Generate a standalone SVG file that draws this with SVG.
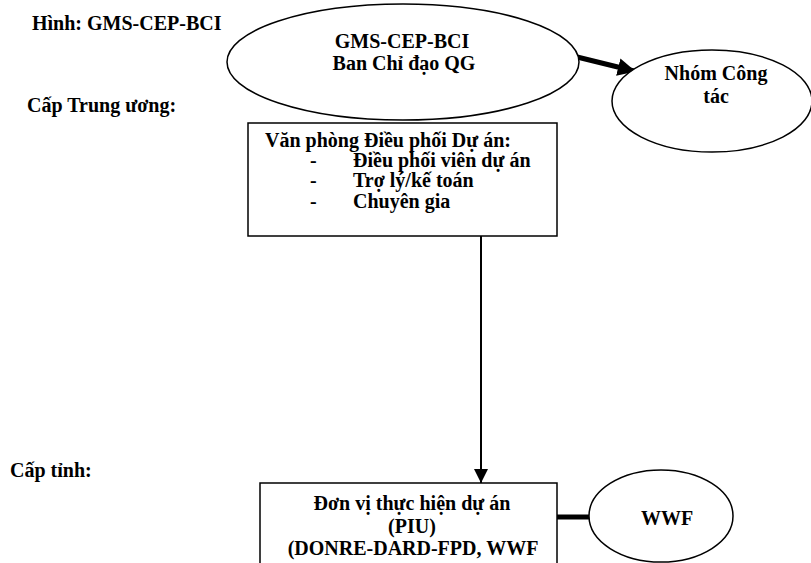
<svg xmlns="http://www.w3.org/2000/svg" width="811" height="563" viewBox="0 0 811 563">
<style>
text{font-family:"Liberation Serif","Times New Roman",serif;font-weight:bold;font-size:20px;fill:#000}
.c{text-anchor:middle}
.s{fill:#fff;stroke:#000;stroke-width:1.5}
</style>
<defs>
<marker id="ah" viewBox="0 0 10 10" refX="10" refY="5" markerWidth="14" markerHeight="15" markerUnits="userSpaceOnUse" orient="auto"><path d="M0,0L10,5L0,10z" fill="#000"/></marker>
<marker id="ah2" viewBox="0 0 10 10" refX="9" refY="5" markerWidth="18" markerHeight="18" markerUnits="userSpaceOnUse" orient="auto"><path d="M0,0L10,5L0,10z" fill="#000"/></marker>
</defs>
<rect width="811" height="563" fill="#fff"/>
<text x="32" y="30">Hình: GMS-CEP-BCI</text>
<text x="27" y="112">Cấp Trung ương:</text>
<text x="10" y="477">Cấp tỉnh:</text>
<g id="connectors">
<line x1="569" y1="55" x2="634" y2="71" stroke="#000" stroke-width="5" marker-end="url(#ah2)"/>
<line x1="481" y1="236" x2="481" y2="483" stroke="#000" stroke-width="2" marker-end="url(#ah)"/>
<line x1="557" y1="517" x2="590" y2="517" stroke="#000" stroke-width="5"/>
</g>
<g id="bci">
<ellipse class="s" cx="403" cy="62" rx="176" ry="58"/>
<text class="c" x="402" y="48">GMS-CEP-BCI</text>
<text class="c" x="404" y="70">Ban Chỉ đạo QG</text>
</g>
<g id="nhom">
<ellipse class="s" cx="712" cy="101" rx="100" ry="51"/>
<text class="c" x="716" y="80">Nhóm Công</text>
<text class="c" x="716" y="103">tác</text>
</g>
<g id="vanphong">
<rect class="s" x="248" y="123" width="309" height="113"/>
<text x="265" y="147">Văn phòng Điều phối Dự án:</text>
<text x="310" y="167">-</text><text x="353" y="167">Điều phối viên dự án</text>
<text x="310" y="187">-</text><text x="353" y="187">Trợ lý/kế toán</text>
<text x="310" y="208">-</text><text x="353" y="208">Chuyên gia</text>
</g>
<g id="piu">
<rect class="s" x="260" y="483" width="297" height="100"/>
<text class="c" x="412" y="510">Đơn vị thực hiện dự án</text>
<text class="c" x="412" y="533">(PIU)</text>
<text class="c" x="413" y="555">(DONRE-DARD-FPD, WWF</text>
</g>
<g id="wwf">
<ellipse class="s" cx="661" cy="516" rx="72" ry="46"/>
<text class="c" x="667" y="525">WWF</text>
</g>
</svg>
